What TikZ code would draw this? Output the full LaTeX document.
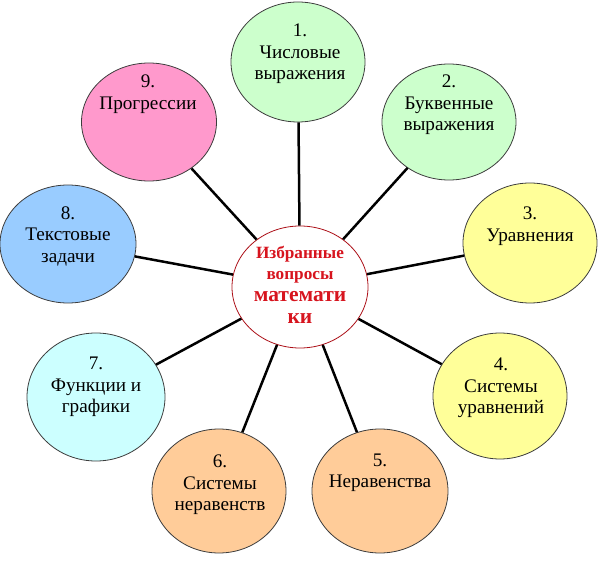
\documentclass[tikz,border=0pt]{standalone}
\usepackage{fontspec}
\setmainfont{Liberation Serif}
\usetikzlibrary{shapes.geometric}
\definecolor{cgreen}{RGB}{204,255,204}
\definecolor{cyellow}{RGB}{255,255,153}
\definecolor{corange}{RGB}{255,204,153}
\definecolor{ccyan}{RGB}{204,255,255}
\definecolor{cblue}{RGB}{153,204,255}
\definecolor{cpink}{RGB}{255,153,204}
\definecolor{cred}{RGB}{215,20,30}
\definecolor{cedge}{RGB}{60,60,60}
\tikzset{
  bubble/.style={ellipse, draw=cedge, line width=0.8pt, inner sep=0pt,
    minimum width=134pt, minimum height=120pt},
  hub/.style={ellipse, draw=cred!80!black, line width=0.8pt, fill=white, inner sep=0pt,
    minimum width=136pt, minimum height=122pt},
  label/.style={align=center, inner sep=0pt, text=black,
    font=\fontsize{19.2}{21.5}\selectfont},
  hublabel/.style={align=center, inner sep=0pt, text=cred,
    font=\bfseries\fontsize{17.2}{21}\selectfont},
  spoke/.style={line width=2.5pt, black}
}
\newcommand{\bigln}[1]{{\fontsize{21.5}{22.5}\selectfont #1}}
\begin{document}
\begin{tikzpicture}[x=1pt,y=-1pt]
\useasboundingbox (0,0) rectangle (600,561);
% circles
\node[hub] (c) at (300,287) {};
\node[bubble, fill=cgreen] (n1) at (298,62) {};
\node[bubble, fill=cgreen, minimum height=116pt] (n2) at (449,122) {};
\node[bubble, fill=cyellow] (n3) at (530,243) {};
\node[bubble, fill=cyellow, minimum height=126pt] (n4) at (500,396) {};
\node[bubble, fill=corange, minimum width=136pt, minimum height=124pt] (n5) at (380,491) {};
\node[bubble, fill=corange, minimum height=124pt] (n6) at (219,491) {};
\node[bubble, fill=ccyan, minimum width=138pt, minimum height=128pt] (n7) at (96,397) {};
\node[bubble, fill=cblue, minimum width=136pt, minimum height=118pt] (n8) at (68,244) {};
\node[bubble, fill=cpink, minimum width=135pt, minimum height=118pt] (n9) at (149,122) {};
% spokes
\foreach \n in {n1,n2,n3,n4,n5,n6,n7,n8,n9}
  \draw[spoke] (c) -- (\n);
% texts
\node[hublabel] (tc) at (300,285) {Избранные\\вопросы\\[1pt]\bigln{математи}\\[1pt]\bigln{ки}};
\node[label] (t1) at (300,54) {1.\\Числовые\\выражения};
\node[label] (t2) at (449,105) {2.\\Буквенные\\выражения};
\node[label] (t3) at (530,226) {3.\\Уравнения};
\node[label] (t4) at (501,388) {4.\\Системы\\уравнений};
\node[label] (t5) at (380,473) {5.\\Неравенства};
\node[label] (t6) at (220,485) {6.\\Системы\\неравенств};
\node[label] (t7) at (96,387) {7.\\Функции и\\графики};
\node[label] (t8) at (68,236) {8.\\Текстовые\\задачи};
\node[label] (t9) at (148,94) {9.\\Прогрессии};
\end{tikzpicture}
\end{document}
